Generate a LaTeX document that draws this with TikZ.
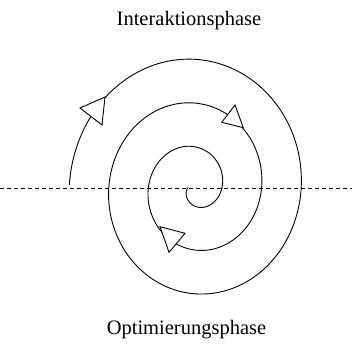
\documentclass[tikz,border=0pt]{standalone}
\usepackage{fontspec}
\setmainfont{Liberation Serif}
\begin{document}
\begin{tikzpicture}[x=1pt,y=-1pt,
  spiralline/.style={line width=0.9pt},
  guide/.style={line width=0.7pt, dash pattern=on 4pt off 3pt},
  arrowtri/.style={draw, fill=white, line width=0.9pt, line join=miter},
  phaselabel/.style={font=\fontsize{20.5}{24}\selectfont, anchor=base, inner sep=0pt}]
\useasboundingbox (0,0) rectangle (352,347);
\draw[guide] (0,188) -- (352,188);
\draw[spiralline] plot[domain=1:7, samples=700, variable=\t]
  ({195.1+(19.8*\t-12.7)*cos(180*\t)}, {187.5-1.105*(19.8*\t-12.7)*sin(180*\t)});
\draw[arrowtri] (80,108) -- (102,125) -- (105,97) -- cycle;
\draw[arrowtri] (235,105) -- (221.7,122.3) -- (243.3,127.7) -- cycle;
\draw[arrowtri] (185,233.3) -- (169,252.3) -- (160,226.7) -- cycle;
\node[phaselabel] (top) at (189,25.5) {Interaktionsphase};
\node[phaselabel] (bottom) at (186.5,334) {Optimierungsphase};
\end{tikzpicture}
\end{document}
